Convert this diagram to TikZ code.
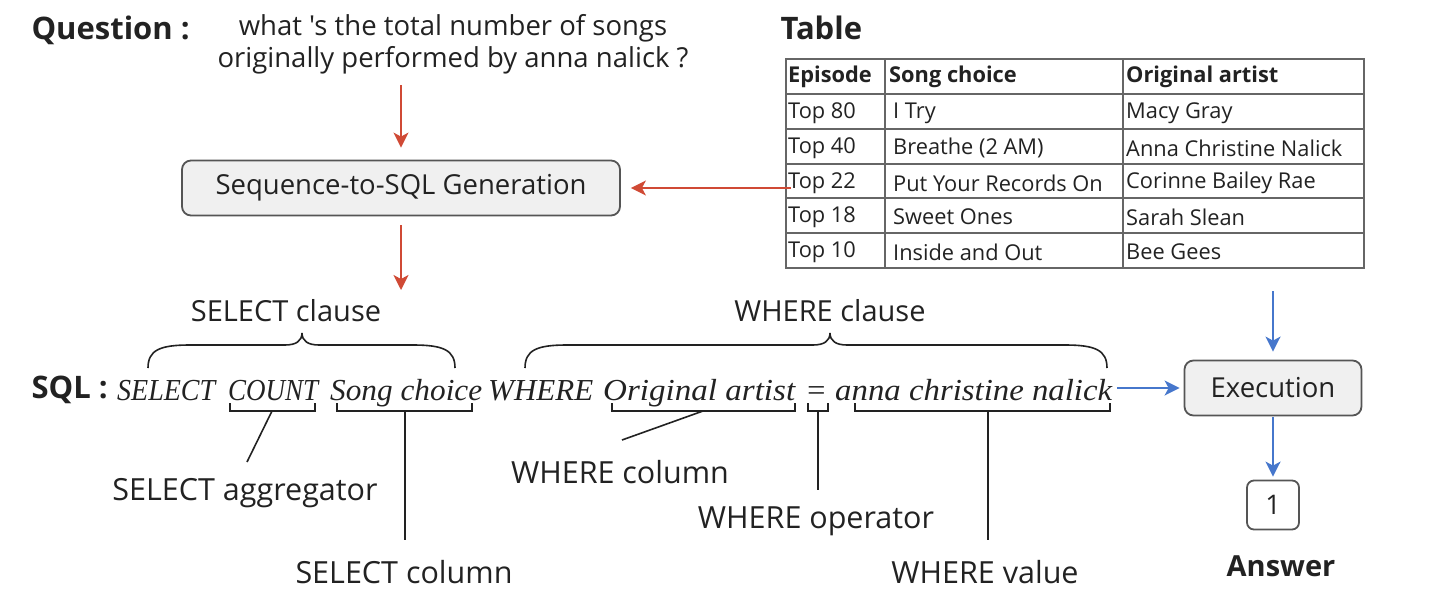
\documentclass[tikz,border=0pt]{standalone}
\usepackage{fontspec}
\usepackage{graphicx}
\newfontfamily\ui{Open Sans}
\newfontfamily\sqlfont{Liberation Serif}
\usetikzlibrary{arrows.meta}
\definecolor{redarr}{HTML}{D04A35}
\definecolor{bluearr}{HTML}{4677CC}
\definecolor{boxfill}{HTML}{F0F0F0}
\definecolor{boxline}{HTML}{555555}
\definecolor{txt}{HTML}{222222}
\definecolor{grid}{HTML}{666666}
\newcommand\sqlfit[2]{\resizebox{#1}{\height}{\sqlfont\itshape\fontsize{30.5}{32}\selectfont #2}}
\begin{document}
\begin{tikzpicture}[x=1pt,y=-1pt,
  every node/.style={text=txt,font=\ui\fontsize{24}{32}\selectfont},
  procbox/.style={draw=boxline,fill=boxfill,rounded corners=9pt,line width=1.8pt,minimum height=55pt,inner sep=0pt,font=\ui\fontsize{27.5}{30}\selectfont},
  ansbox/.style={draw=boxline,fill=white,rounded corners=7pt,line width=1.8pt,minimum width=52pt,minimum height=49pt,inner sep=0pt,font=\ui\fontsize{27}{30}\selectfont},
  redarrow/.style={draw=redarr,line width=2pt,-{Stealth[length=15pt,width=15pt,inset=4pt]}},
  bluearrow/.style={draw=bluearr,line width=2pt,-{Stealth[length=15pt,width=15pt,inset=4pt]}},
  headlbl/.style={font=\ui\bfseries\fontsize{31}{34}\selectfont},
  sqlseg/.style={anchor=base west,inner sep=0pt},
  celltxt/.style={anchor=west,inner sep=0pt,font=\ui\fontsize{21.8}{24}\selectfont},
  cellhead/.style={anchor=west,inner sep=0pt,font=\ui\bfseries\fontsize{21.8}{24}\selectfont},
  gridline/.style={draw=grid,line width=2pt},
  ubrk/.style={draw=txt,line width=1.6pt},
  lead/.style={draw=txt,line width=1.6pt},
  clause/.style={draw=txt,line width=1.6pt},
  clauselbl/.style={font=\ui\fontsize{29}{32}\selectfont},
  partlbl/.style={inner sep=0pt,font=\ui\fontsize{30.5}{34}\selectfont}
]
\useasboundingbox (0,0) rectangle (1440,597);

% Question
\node[headlbl,anchor=west] (qlabel) at (28,30) {Question :};
\node[align=center,font=\ui\fontsize{27.5}{32}\selectfont] (qtext) at (453,44) {what 's the total number of songs\\originally performed by anna nalick ?};

% Sequence-to-SQL box
\node[procbox,minimum width=438pt] (seq) at (401,188) {Sequence-to-SQL Generation};
\draw[redarrow,shorten <=8pt,shorten >=12pt] (qtext.south -| seq.north) -- (seq.north);

% Table
\node[headlbl,anchor=west] (tlabel) at (777,28) {Table};
\node[draw=grid,line width=2pt,minimum width=578pt,minimum height=209pt,inner sep=0pt,anchor=north west] (tbl) at (785,58) {};
\draw[gridline] (885,58) -- (885,267);
\draw[gridline] (1123,58) -- (1123,267);
\foreach \yy in {94,129,164,198,233} {\draw[gridline] (785,\yy) -- (1363,\yy);}
\node[cellhead] (h1) at (788,77) {Episode};
\node[cellhead] (h2) at (889,77) {Song choice};
\node[cellhead] (h3) at (1126,77) {Original artist};
\node[celltxt] (r1a) at (788,113) {Top 80};
\node[celltxt] (r1b) at (893,113) {I Try};
\node[celltxt] (r1c) at (1126,113) {Macy Gray};
\node[celltxt] (r2a) at (788,148) {Top 40};
\node[celltxt] (r2b) at (893,148) {Breathe (2 AM)};
\node[celltxt] (r2c) at (1126,148) {Anna Christine Nalick};
\node[celltxt] (r3a) at (788,183) {Top 22};
\node[celltxt] (r3b) at (893,183) {Put Your Records On};
\node[celltxt] (r3c) at (1126,183) {Corinne Bailey Rae};
\node[celltxt] (r4a) at (788,217) {Top 18};
\node[celltxt] (r4b) at (893,217) {Sweet Ones};
\node[celltxt] (r4c) at (1126,217) {Sarah Slean};
\node[celltxt] (r5a) at (788,252) {Top 10};
\node[celltxt] (r5b) at (893,252) {Inside and Out};
\node[celltxt] (r5c) at (1126,252) {Bee Gees};

\draw[redarrow,shorten <=-6pt,shorten >=10pt] (tbl.west |- seq.east) -- (seq.east);

% Seq -> SQL arrow
\coordinate (sqltop) at (401,290);
\draw[redarrow,shorten <=9pt] (seq.south) -- (sqltop);

% Execution
\node[procbox,minimum width=177pt] (exec) at (1273,388) {Execution};
\draw[bluearrow,shorten <=22pt,shorten >=8pt] (tbl.south -| exec.north) -- (exec.north);
\node[ansbox] (ans) at (1273,505) {1};
\draw[bluearrow,shorten <=1pt,shorten >=3pt] (exec.south) -- (ans.north);
\node[headlbl,font=\ui\bfseries\fontsize{29}{32}\selectfont] (anslbl) at (1281,566) {Answer};

% SQL line
\node[headlbl,anchor=west] (sqllbl) at (28,390) {SQL :};
\node[sqlseg] (s1) at (117,400) {\sqlfit{98pt}{SELECT}};
\node[sqlseg] (s2) at (228,400) {\sqlfit{90pt}{COUNT}};
\node[sqlseg] (s3) at (330,400) {\sqlfit{152pt}{Song choice}};
\node[sqlseg] (s4) at (488,400) {\sqlfit{105pt}{WHERE}};
\node[sqlseg] (s5) at (603,400) {\sqlfit{192pt}{Original artist}};
\node[sqlseg] (s6) at (805,400) {\sqlfit{22pt}{=}};
\node[sqlseg] (s7) at (835,400) {\sqlfit{277pt}{anna christine nalick}};
\draw[bluearrow,shorten <=5pt,shorten >=4pt] (s7.east |- exec.west) -- (exec.west);

% braces over clauses
\draw[clause] (148,368) .. controls (148,350) and (160,345) .. (190,345) -- (285,345)
  .. controls (296,345) and (302,341) .. (302,333) .. controls (302,341) and (308,345) .. (319,345)
  -- (413,345) .. controls (443,345) and (455,350) .. (455,368);
\draw[clause] (525,368) .. controls (525,350) and (537,345) .. (567,345) -- (813,345)
  .. controls (824,345) and (830,341) .. (830,333) .. controls (830,341) and (836,345) .. (847,345)
  -- (1065,345) .. controls (1095,345) and (1107,350) .. (1107,368);
\node[clauselbl] (selcl) at (286,311) {SELECT clause};
\node[clauselbl] (whcl) at (830,311) {WHERE clause};

% under brackets
\coordinate (b2) at (272,411);
\coordinate (b3) at (405,411);
\coordinate (b5) at (703,411);
\coordinate (b6) at (818,411);
\coordinate (b7) at (988,411);
\draw[ubrk] (230,403) |- (315,411) -- (315,403);
\draw[ubrk] (337,403) |- (472,411) -- (472,403);
\draw[ubrk] (612,403) |- (795,411) -- (795,403);
\draw[ubrk] (808,403) |- (828,411) -- (828,403);
\draw[ubrk] (855,403) |- (1110,411) -- (1110,403);

% part labels
\node[partlbl] (lagg) at (245,493) {SELECT aggregator};
\node[partlbl] (lcol) at (404,572) {SELECT column};
\node[partlbl] (lwcol) at (620,472) {WHERE column};
\node[partlbl] (lop) at (816,521) {WHERE operator};
\node[partlbl] (lval) at (985,572) {WHERE value};
\coordinate (eagg) at (247,462);
\coordinate (ecol) at (405,540);
\coordinate (ewcol) at (622,440);
\coordinate (eop) at (818,490);
\coordinate (eval) at (988,540);
\draw[lead] (b2) -- (eagg);
\draw[lead] (b3) -- (ecol);
\draw[lead] (b5) -- (ewcol);
\draw[lead] (b6) -- (eop);
\draw[lead] (b7) -- (eval);
\end{tikzpicture}
\end{document}
